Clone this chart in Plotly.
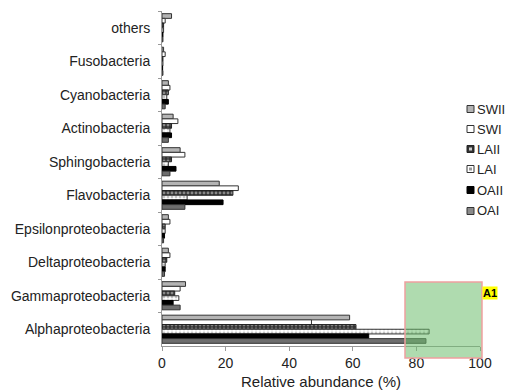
import plotly.graph_objects as go

categories = ["others", "Fusobacteria", "Cyanobacteria", "Actinobacteria", "Sphingobacteria",
              "Flavobacteria", "Epsilonproteobacteria", "Deltaproteobacteria",
              "Gammaproteobacteria", "Alphaproteobacteria"]

SWII = [3.0, 0.5, 2.0, 3.5, 5.7, 18.0, 2.0, 2.0, 7.4, 59.0]
SWI = [1.0, 1.0, 2.5, 5.0, 7.2, 24.0, 2.5, 2.5, 5.7, 47.0]
LAII = [0.5, 0.3, 2.0, 3.0, 3.0, 22.3, 1.0, 1.5, 4.0, 61.0]
LAI = [0.5, 0.3, 1.5, 2.5, 2.0, 7.9, 1.0, 1.0, 5.3, 84.0]
OAII = [0.3, 0.2, 2.0, 3.0, 4.4, 19.2, 0.8, 1.0, 3.5, 65.0]
OAI = [0.3, 0.3, 1.0, 2.0, 2.5, 7.2, 0.5, 0.8, 5.7, 83.0]

series = [
    ("SWII", SWII, dict(color="#b4b4b4", line=dict(color="#333333", width=1))),
    ("SWI", SWI, dict(color="#ffffff", line=dict(color="#333333", width=1))),
    ("LAII", LAII, dict(color="#333333", line=dict(color="#222222", width=1),
                        pattern=dict(shape=".", fgcolor="#dddddd", bgcolor="#333333", size=4, solidity=0.4))),
    ("LAI", LAI, dict(color="#ffffff", line=dict(color="#333333", width=1),
                      pattern=dict(shape=".", fgcolor="#888888", bgcolor="#ffffff", size=4, solidity=0.4))),
    ("OAII", OAII, dict(color="#000000", line=dict(color="#000000", width=1))),
    ("OAI", OAI, dict(color="#6e6e6e", line=dict(color="#333333", width=1))),
]

# pixel geometry of the plot area
L, R, T, B = 162, 480, 11, 346
W, H = 513, 392


def px(xp):
    return (xp - L) / (R - L)


def py(yp):
    return (B - yp) / (B - T)


fig = go.Figure()
for name, vals, marker in series:
    fig.add_trace(go.Bar(x=vals, y=categories, name=name, orientation="h", marker=marker,
                         showlegend=False))

fig.update_layout(
    width=W, height=H,
    margin=dict(l=L, r=W - R, t=T, b=H - B, autoexpand=False),
    plot_bgcolor="white", paper_bgcolor="white",
    barmode="group", bargap=0.16, bargroupgap=0.0,
    font=dict(family="Liberation Sans, Arial, sans-serif", size=14, color="#222222"),
    xaxis=dict(range=[0, 100], tickvals=[0, 20, 40, 60, 80, 100], showgrid=False,
               showline=True, linecolor="#999999", linewidth=1, ticks="outside", ticklen=4,
               tickcolor="#999999", zeroline=False, tickfont=dict(size=14),
               title=dict(text="Relative abundance (%)", font=dict(size=15), standoff=6)),
    yaxis=dict(autorange="reversed", showgrid=False, showline=True, linecolor="#999999",
               linewidth=1, ticks="outside", ticklen=3, tickcolor="#999999",
               tickson="boundaries", ticklabelstandoff=8, tickfont=dict(size=14)),
)

# custom legend
leg_y = [109, 129, 149, 169, 190, 211]
sym = {
    "SWII": ("#b4b4b4", "#333333", None),
    "SWI": ("#ffffff", "#333333", None),
    "LAII": ("#333333", "#222222", "#cccccc"),
    "LAI": ("#ffffff", "#333333", "#999999"),
    "OAII": ("#000000", "#000000", None),
    "OAI": ("#8a8a8a", "#333333", None),
}
for (name, _, _), yc in zip(series, leg_y):
    fill, edge, inner = sym[name]
    fig.add_shape(type="rect", xref="paper", yref="paper",
                  x0=px(467), x1=px(474), y0=py(yc + 3.5), y1=py(yc - 3.5),
                  fillcolor=fill, line=dict(color=edge, width=1))
    if inner:
        fig.add_shape(type="rect", xref="paper", yref="paper",
                      x0=px(469), x1=px(472), y0=py(yc + 1.5), y1=py(yc - 1.5),
                      fillcolor=inner, line=dict(width=0))
    fig.add_annotation(xref="paper", yref="paper", x=px(475), y=py(yc), xanchor="left",
                       yanchor="middle", text=name, showarrow=False,
                       font=dict(size=13, color="#222222"))

fig.add_shape(type="rect", xref="paper", yref="paper", x0=px(405), x1=px(482), y0=py(358), y1=py(282),
              fillcolor="rgba(110,190,110,0.55)", line=dict(color="#f0a0a0", width=1.5), layer="above")
fig.add_annotation(xref="paper", yref="paper", x=px(482), y=py(292.5), xanchor="left", yanchor="middle",
                   text="<b>A1</b>", showarrow=False, bgcolor="#ffff00", borderpad=0,
                   font=dict(size=11, color="#000000"))

fig.write_html("out.html")
